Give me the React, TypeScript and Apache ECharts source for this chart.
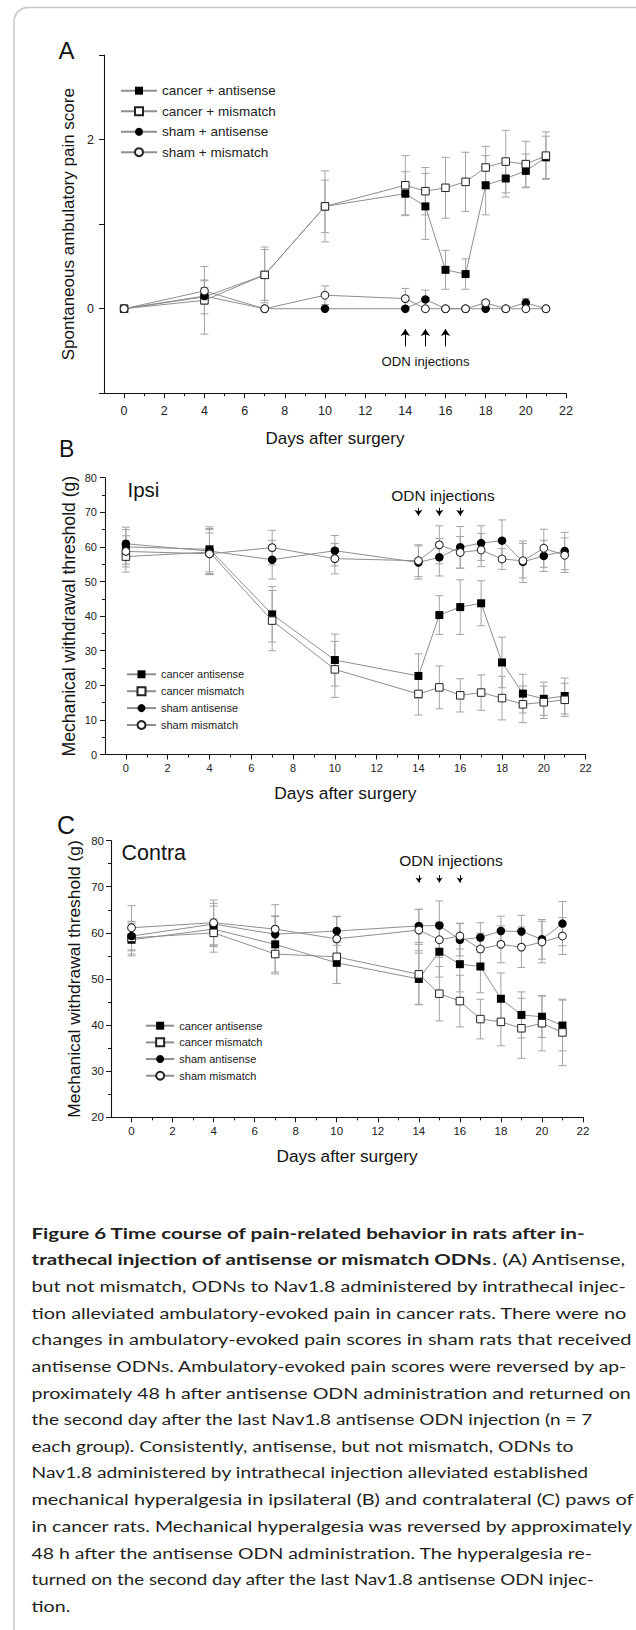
import React, { useEffect, useRef } from 'react';
import * as echarts from 'echarts';

// ---------------- data ----------------
const days = [0, 4, 7, 10, 14, 15, 16, 17, 18, 19, 20, 21];
const injectionDays = [14, 15, 16];
const xLabelValues = [0, 2, 4, 6, 8, 10, 12, 14, 16, 18, 20, 22];
const xMinorValues = [1, 3, 5, 7, 9, 11, 13, 15, 17, 19, 21];
const yLabelValuesA = [0, 2];

const namesA = ['cancer + antisense', 'cancer + mismatch', 'sham + antisense', 'sham + mismatch'];
const namesBC = ['cancer antisense', 'cancer mismatch', 'sham antisense', 'sham mismatch'];

// Panel A: spontaneous ambulatory pain score
const cancerAntisenseA = [0, 0.14, 0.40, 1.21, 1.36, 1.21, 0.46, 0.41, 1.46, 1.54, 1.63, 1.79];
const cancerMismatchA = [0, 0.10, 0.40, 1.21, 1.46, 1.39, 1.43, 1.50, 1.67, 1.74, 1.71, 1.81];
const shamAntisenseA = [0, 0.15, 0, 0, 0, 0.11, 0, 0, 0, 0, 0.07, 0];
const shamMismatchA = [0, 0.21, 0, 0.16, 0.12, 0, 0, 0, 0.07, 0, 0, 0];
const cancerAntisenseAErr = [0, 0.2, 0.3, 0.31, 0.26, 0.39, 0.23, 0.18, 0.35, 0.22, 0.2, 0.25];
const cancerMismatchAErr = [0, 0.4, 0.33, 0.42, 0.35, 0.28, 0.36, 0.35, 0.25, 0.37, 0.27, 0.28];
const shamAntisenseAErr = [0, 0.1, 0, 0, 0, 0.11, 0, 0, 0, 0, 0.05, 0];
const shamMismatchAErr = [0, 0.12, 0, 0.11, 0.12, 0, 0, 0, 0.03, 0, 0, 0];

// Panel B: Ipsi mechanical withdrawal threshold (g)
const cancerAntisenseB = [60.0, 59.3, 40.5, 27.3, 22.7, 40.3, 42.6, 43.7, 26.6, 17.6, 16.1, 16.9];
const cancerMismatchB = [57.2, 58.5, 38.7, 24.6, 17.5, 19.4, 17.1, 17.9, 16.3, 14.5, 15.1, 15.8];
const shamAntisenseB = [60.9, 58.8, 56.3, 58.9, 55.5, 57.0, 59.9, 61.1, 61.8, 55.7, 57.4, 58.8];
const shamMismatchB = [58.7, 58.0, 59.8, 56.6, 56.0, 60.6, 58.4, 59.1, 56.5, 56.0, 59.6, 57.6];
const cancerAntisenseBErr = [5.0, 6.5, 8.0, 7.5, 6.4, 5.6, 7.9, 6.5, 7.3, 5.6, 4.8, 5.2];
const cancerMismatchBErr = [4.5, 6.5, 8.7, 8.1, 6.1, 6.2, 4.8, 5.1, 6.3, 5.3, 4.7, 4.8];
const shamAntisenseBErr = [4.8, 6.5, 5.6, 4.4, 4.8, 5.4, 6.0, 5.0, 6.0, 6.0, 4.5, 5.4];
const shamMismatchBErr = [4.5, 6.0, 5.0, 4.4, 4.6, 5.5, 4.6, 4.8, 3.0, 5.0, 5.5, 5.0];

// Panel C: Contra mechanical withdrawal threshold (g)
const cancerAntisenseC = [58.5, 60.8, 57.5, 53.5, 50.0, 55.9, 53.2, 52.7, 45.7, 42.2, 41.8, 39.9];
const cancerMismatchC = [58.9, 60.0, 55.4, 54.8, 51.0, 46.8, 45.2, 41.3, 40.7, 39.3, 40.4, 38.4];
const shamAntisenseC = [59.3, 61.9, 59.7, 60.4, 61.5, 61.6, 58.5, 59.0, 60.4, 60.3, 58.6, 62.0];
const shamMismatchC = [61.1, 62.2, 60.8, 58.7, 60.6, 58.5, 59.3, 56.5, 57.5, 56.9, 58.0, 59.3];
const cancerAntisenseCErr = [3.5, 5.0, 6.0, 4.5, 5.6, 5.5, 6.0, 5.7, 5.6, 5.0, 4.5, 5.5];
const cancerMismatchCErr = [3.5, 3.0, 4.3, 5.8, 6.5, 5.9, 5.6, 4.3, 5.2, 6.5, 6.0, 7.2];
const shamAntisenseCErr = [3.2, 4.5, 4.0, 3.1, 3.6, 5.3, 3.5, 3.2, 3.2, 3.5, 4.3, 4.8];
const shamMismatchCErr = [4.8, 4.9, 5.3, 4.9, 4.5, 3.8, 2.8, 3.4, 4.0, 4.4, 4.5, 4.0];

// arrow extents (axis values) for "ODN injections"
const arrowA = [-0.445, -0.24];
const arrowB = [71.3, 69.0];
const arrowC = [72.5, 70.9];

const captionLines: { t: string; bold: boolean }[][] = [
  [{ t: 'Figure 6 Time course of pain-related behavior in rats after in-', bold: true }],
  [{ t: 'trathecal injection of antisense or mismatch ODNs', bold: true }, { t: '. (A) Antisense,', bold: false }],
  [{ t: 'but not mismatch, ODNs to Nav1.8 administered by intrathecal injec-', bold: false }],
  [{ t: 'tion alleviated ambulatory-evoked pain in cancer rats. There were no', bold: false }],
  [{ t: 'changes in ambulatory-evoked pain scores in sham rats that received', bold: false }],
  [{ t: 'antisense ODNs. Ambulatory-evoked pain scores were reversed by ap-', bold: false }],
  [{ t: 'proximately 48 h after antisense ODN administration and returned on', bold: false }],
  [{ t: 'the second day after the last Nav1.8 antisense ODN injection (n = 7', bold: false }],
  [{ t: 'each group). Consistently, antisense, but not mismatch, ODNs to', bold: false }],
  [{ t: 'Nav1.8 administered by intrathecal injection alleviated established', bold: false }],
  [{ t: 'mechanical hyperalgesia in ipsilateral (B) and contralateral (C) paws of', bold: false }],
  [{ t: 'in cancer rats. Mechanical hyperalgesia was reversed by approximately', bold: false }],
  [{ t: '48 h after the antisense ODN administration. The hyperalgesia re-', bold: false }],
  [{ t: 'turned on the second day after the last Nav1.8 antisense ODN injec-', bold: false }],
  [{ t: 'tion.', bold: false }],
];

// ---------------- layout ----------------
const CAPTION_LEFT = 31.5;
const CAPTION_LINE_ENDS = [587, 626, 627, 628, 632, 628, 632, 593, 574, 589, 634, 634, 593, 595, 0];
const CAPTION_BASE0 = 1238.7;
const CAPTION_STEP = 26.67;
const CAPTION_FS = 16;

const F = '"Liberation Sans", Arial, Helvetica, sans-serif';
const CF = 'Lato';
const LINE_GRAY = '#8e8e8e';
const ERR_GRAY = '#a3a3a3';
const INK = '#141414';

const grids = [
  { left: 104, top: 55, width: 462, height: 338.3 },
  { left: 105, top: 477.7, width: 480.6, height: 276.8 },
  { left: 111, top: 840.6, width: 472, height: 276.7 },
];

const markerDefs = [
  { symbol: 'rect', size: 8, itemStyle: { color: '#000', borderColor: '#000', borderWidth: 0 } },
  { symbol: 'rect', size: 7.5, itemStyle: { color: '#fff', borderColor: '#222', borderWidth: 1 } },
  { symbol: 'circle', size: 8.5, itemStyle: { color: '#000', borderColor: '#000', borderWidth: 0 } },
  { symbol: 'circle', size: 7.8, itemStyle: { color: '#fff', borderColor: '#222', borderWidth: 1 } },
];

const errRender = (params: any, api: any) => {
  const x = api.value(0);
  const y = api.value(1);
  const e = api.value(2);
  const hi = api.coord([x, y + e]);
  const lo = api.coord([x, y - e]);
  const hw = 4;
  const style = { stroke: ERR_GRAY, lineWidth: 1, fill: 'none' };
  return {
    type: 'group',
    children: [
      { type: 'line', shape: { x1: hi[0], y1: hi[1], x2: lo[0], y2: lo[1] }, style },
      { type: 'line', shape: { x1: hi[0] - hw, y1: hi[1], x2: hi[0] + hw, y2: hi[1] }, style },
      { type: 'line', shape: { x1: lo[0] - hw, y1: lo[1], x2: lo[0] + hw, y2: lo[1] }, style },
    ],
  };
};

function panelSeries(
  p: number,
  names: string[],
  vals: number[][],
  errs: number[][],
  arrow: number[],
  arrowSize: number
) {
  const out: any[] = [];
  vals.forEach((v, k) => {
    out.push({
      type: 'custom',
      name: 'err-' + p + '-' + k,
      xAxisIndex: p,
      yAxisIndex: p,
      renderItem: errRender,
      encode: { x: 0, y: 1 },
      data: days.map((d, i) => [d, v[i], errs[k][i]]).filter((r) => r[2] > 0),
      z: 1,
      silent: true,
    });
  });
  vals.forEach((v, k) => {
    const m = markerDefs[k];
    const s: any = {
      type: 'line',
      name: names[k],
      xAxisIndex: p,
      yAxisIndex: p,
      data: days.map((d, i) => [d, v[i]]),
      symbol: m.symbol,
      symbolSize: m.size,
      showSymbol: true,
      showAllSymbol: true,
      lineStyle: { color: LINE_GRAY, width: 1 },
      itemStyle: m.itemStyle,
      emphasis: { disabled: true },
      silent: true,
      z: 3 + k,
    };
    if (k === 0) {
      s.markLine = {
        silent: true,
        symbol: ['none', 'arrow'],
        symbolSize: arrowSize,
        label: { show: false },
        lineStyle: { color: '#000', width: 1, type: 'solid' },
        emphasis: { disabled: true },
        data: injectionDays.map((d) => [{ coord: [d, arrow[0]] }, { coord: [d, arrow[1]] }]),
      };
    }
    out.push(s);
  });
  return out;
}

function xAxisMain(p: number, fs: number, margin: number, nameGap: number, nameFs: number) {
  return {
    type: 'value',
    gridIndex: p,
    min: -1,
    max: 22,
    interval: 1,
    axisLine: { show: true, onZero: false, lineStyle: { color: INK, width: 1.1 } },
    axisTick: { show: true, length: 5, customValues: xLabelValues, lineStyle: { color: INK, width: 1 } },
    axisLabel: { show: true, customValues: xLabelValues, fontSize: fs, fontFamily: F, color: '#222', margin },
    splitLine: { show: false },
    name: 'Days after surgery',
    nameLocation: 'middle',
    nameGap,
    nameMoveOverlap: false,
    nameTextStyle: { fontSize: nameFs, fontFamily: F, color: INK },
  };
}

function xAxisMinor(p: number) {
  return {
    type: 'value',
    gridIndex: p,
    min: -1,
    max: 22,
    interval: 1,
    axisLine: { show: false, onZero: false },
    axisTick: { show: true, length: 3, customValues: xMinorValues, lineStyle: { color: INK, width: 1 } },
    axisLabel: { show: false },
    splitLine: { show: false },
  };
}

export default function App() {
  const ref = useRef<HTMLDivElement>(null);

  useEffect(() => {
    document.body.style.margin = '0';
    document.body.style.background = '#fff';
    if (!ref.current) return;
    const chart = echarts.init(ref.current, undefined, { renderer: 'svg' });

    const canvas = document.createElement('canvas');
    const ctx = canvas.getContext('2d') as CanvasRenderingContext2D;
    const fontOf = (bold: boolean) => `${bold ? 'bold' : 'normal'} ${CAPTION_FS}px ${CF}`;
    const measure = (t: string, bold: boolean) => {
      ctx.font = fontOf(bold);
      return ctx.measureText(t).width;
    };

    const scales: number[] = [];
    captionLines.forEach((parts, i) => {
      const nat = parts.reduce((a, p) => a + measure(p.t, p.bold), 0);
      if (CAPTION_LINE_ENDS[i] > 0) scales.push((CAPTION_LINE_ENDS[i] - CAPTION_LEFT) / nat);
    });
    const avgScale = scales.reduce((a, b) => a + b, 0) / scales.length;

    const captionGraphics: any[] = [];
    captionLines.forEach((parts, i) => {
      const nat = parts.reduce((a, p) => a + measure(p.t, p.bold), 0);
      const sc = CAPTION_LINE_ENDS[i] > 0 ? (CAPTION_LINE_ENDS[i] - CAPTION_LEFT) / nat : avgScale;
      const y = CAPTION_BASE0 + i * CAPTION_STEP - 0.387 * CAPTION_FS;
      let x = CAPTION_LEFT;
      parts.forEach((p) => {
        captionGraphics.push({
          type: 'text',
          x,
          y,
          scaleX: sc,
          silent: true,
          style: {
            text: p.t,
            font: fontOf(p.bold),
            fill: '#231f20',
            textAlign: 'left',
            textVerticalAlign: 'middle',
            verticalAlign: 'middle',
          },
        });
        x += measure(p.t, p.bold) * sc;
      });
    });

    const txt = (text: string, x: number, y: number, fs: number, align = 'left') => ({
      type: 'text',
      x,
      y,
      silent: true,
      style: {
        text,
        font: `${fs}px ${F}`,
        fill: INK,
        textAlign: align,
        textVerticalAlign: 'middle',
        verticalAlign: 'middle',
      },
    });

    const legendBase = (left: number, top: number, itemWidth: number, gap: number, fs: number, data: string[]) => ({
      show: true,
      orient: 'vertical',
      left,
      top,
      itemWidth,
      itemHeight: 10,
      itemGap: gap,
      selectedMode: false,
      padding: 0,
      textStyle: { fontSize: fs, lineHeight: fs, fontFamily: F, color: '#222' },
      data,
    });

    const yCommon = {
      type: 'value',
      splitLine: { show: false },
      nameLocation: 'middle',
      nameMoveOverlap: false,
    };

    const option: any = {
      animation: false,
      backgroundColor: '#fff',
      grid: [
        ...grids.map((g) => ({ ...g, outerBoundsMode: 'none', containLabel: false })),
        ...grids.map((g) => ({ ...g, outerBoundsMode: 'none', containLabel: false })),
      ],
      legend: [
        legendBase(120, 83.7, 36, 6.5, 13.5, namesA),
        legendBase(126, 668.8, 29, 5.9, 11, namesBC),
        legendBase(145, 1020.2, 28.3, 5.67, 11, namesBC),
      ],
      xAxis: [
        xAxisMain(0, 12.5, 11, 36.5, 17),
        xAxisMain(1, 11, 8, 30, 17.4),
        xAxisMain(2, 11.5, 8, 30, 17.3),
        xAxisMinor(3),
        xAxisMinor(4),
        xAxisMinor(5),
      ],
      yAxis: [
        {
          ...yCommon,
          gridIndex: 0,
          min: -1,
          max: 3,
          interval: 1,
          axisLine: { show: true, onZero: false, lineStyle: { color: INK, width: 1.1 } },
          axisTick: { show: true, length: 5, lineStyle: { color: INK, width: 1 } },
          axisLabel: { customValues: yLabelValuesA, fontSize: 12.5, fontFamily: F, color: '#222', margin: 10 },
          name: 'Spontaneous ambulatory pain score',
          nameGap: 27,
          nameTextStyle: { fontSize: 17, fontFamily: F, color: INK },
        },
        {
          ...yCommon,
          gridIndex: 1,
          min: 0,
          max: 80,
          interval: 10,
          axisLine: { show: true, onZero: false, lineStyle: { color: INK, width: 1.1 } },
          axisTick: { show: true, length: 5, lineStyle: { color: INK, width: 1 } },
          minorTick: { show: true, splitNumber: 2, length: 3, lineStyle: { color: INK, width: 1 } },
          axisLabel: { fontSize: 11, fontFamily: F, color: '#222', margin: 8 },
          name: 'Mechanical withdrawal threshold (g)',
          nameGap: 27.5,
          nameTextStyle: { fontSize: 17.6, fontFamily: F, color: INK },
        },
        {
          ...yCommon,
          gridIndex: 2,
          min: 20,
          max: 80,
          interval: 10,
          axisLine: { show: true, onZero: false, lineStyle: { color: INK, width: 1.1 } },
          axisTick: { show: true, length: 5, lineStyle: { color: INK, width: 1 } },
          minorTick: { show: true, splitNumber: 2, length: 3, lineStyle: { color: INK, width: 1 } },
          axisLabel: { fontSize: 11.5, fontFamily: F, color: '#222', margin: 7 },
          name: 'Mechanical withdrawal threshold (g)',
          nameGap: 28.5,
          nameTextStyle: { fontSize: 17.4, fontFamily: F, color: INK },
        },
        { type: 'value', gridIndex: 3, show: false, min: 0, max: 1 },
        { type: 'value', gridIndex: 4, show: false, min: 0, max: 1 },
        { type: 'value', gridIndex: 5, show: false, min: 0, max: 1 },
      ],
      series: [
        ...panelSeries(
          0,
          namesA,
          [cancerAntisenseA, cancerMismatchA, shamAntisenseA, shamMismatchA],
          [cancerAntisenseAErr, cancerMismatchAErr, shamAntisenseAErr, shamMismatchAErr],
          arrowA,
          7
        ),
        ...panelSeries(
          1,
          namesBC,
          [cancerAntisenseB, cancerMismatchB, shamAntisenseB, shamMismatchB],
          [cancerAntisenseBErr, cancerMismatchBErr, shamAntisenseBErr, shamMismatchBErr],
          arrowB,
          6
        ),
        ...panelSeries(
          2,
          namesBC,
          [cancerAntisenseC, cancerMismatchC, shamAntisenseC, shamMismatchC],
          [cancerAntisenseCErr, cancerMismatchCErr, shamAntisenseCErr, shamMismatchCErr],
          arrowC,
          5
        ),
      ],
      graphic: [
        {
          type: 'rect',
          silent: true,
          z: -10,
          shape: { x: 14, y: 7.5, width: 700, height: 1700, r: 14 },
          style: { fill: 'none', stroke: '#c6c6c6', lineWidth: 1.5 },
        },
        txt('A', 58.5, 50, 24),
        txt('B', 59, 448.5, 23),
        txt('C', 57, 824.5, 25),
        txt('Ipsi', 127.5, 489, 20.5),
        txt('Contra', 121.5, 853, 21.5),
        txt('ODN injections', 425.5, 361.7, 13.2, 'center'),
        txt('ODN injections', 443, 495, 15.5, 'center'),
        txt('ODN injections', 451, 860.7, 15.5, 'center'),
        ...captionGraphics,
      ],
    };

    chart.setOption(option);
    return () => {
      chart.dispose();
    };
  }, []);

  return <div ref={ref} style={{ width: 636, height: 1630 }} />;
}
